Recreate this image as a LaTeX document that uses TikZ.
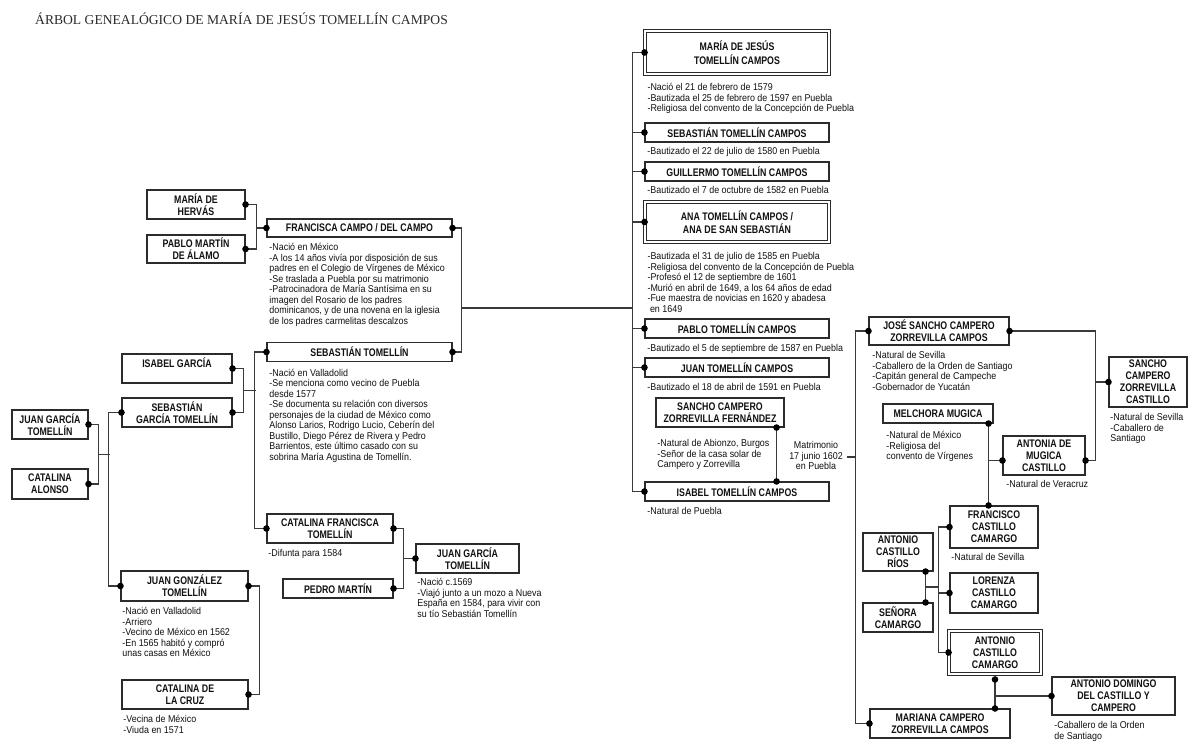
\documentclass[tikz,border=0pt]{standalone}
\usepackage{fontspec}
\setmainfont{Liberation Sans}[FakeStretch=0.9]
\newfontfamily\namefont{Liberation Sans}[FakeStretch=0.8]
\newfontfamily\titlefont{Liberation Serif}
\usepackage{tikz}
\usetikzlibrary{arrows.meta,positioning,calc}
\definecolor{linecol}{HTML}{3A3A3A}
\definecolor{boxcol}{HTML}{2B2B2B}
\definecolor{txtcol}{HTML}{111111}
\begin{document}
\begin{tikzpicture}[x=1pt, y=-1pt, >={Circle[length=6.5pt,color=black]},
	person/.style={draw=boxcol, line width=1.1pt, fill=white, align=center, inner sep=1pt, text=txtcol, font=\namefont\bfseries\fontsize{11}{12}\selectfont},
	twin/.style={person, double=white, double distance=2.2pt, line width=0.9pt},
	wide/.style={person, minimum width=184pt, minimum height=19pt},
	note/.style={align=left, inner sep=0pt, outer sep=0pt, text=txtcol, font=\fontsize{9.9}{10.5}\selectfont, execute at begin node=\strut},
	link/.style={draw=linecol, line width=1.4pt},
	bothdots/.style={link, <->, shorten >=-3.25pt, shorten <=-3.25pt},
	enddot/.style={link, ->, shorten >=-3.25pt}]
	\useasboundingbox (0,0) rectangle (1200,747);
	\fill[white] (0,0) rectangle (1200,747);
	\node[anchor=base west, inner sep=0pt, text=boxcol, font=\titlefont\fontsize{13.6}{16}\selectfont] (title) at (35,24) {ÁRBOL GENEALÓGICO DE MARÍA DE JESÚS TOMELLÍN CAMPOS};

	% left side
	\node[person, minimum width=98pt, minimum height=29pt] (hervas) at (196,204.5) {MARÍA DE\\HERVÁS};
	\node[person, minimum width=98pt, minimum height=28pt] (alamo) at (196,249) {PABLO MARTÍN\\DE ÁLAMO};
	\node[person, minimum width=185pt, minimum height=18pt] (francisca) at (359.5,228) {FRANCISCA CAMPO / DEL CAMPO};
	\node[person, minimum width=185pt, minimum height=19pt] (sebt) at (359.5,352) {SEBASTIÁN TOMELLÍN};
	\node[person, minimum width=110pt, minimum height=29pt] (isabelg) at (177,368.5) {ISABEL GARCÍA\\\mbox{}};
	\node[person, minimum width=110pt, minimum height=29pt] (sebgt) at (177,412.5) {SEBASTIÁN\\GARCÍA TOMELLÍN};
	\node[person, minimum width=76pt, minimum height=29pt] (juangt) at (50,424.5) {JUAN GARCÍA\\TOMELLÍN};
	\node[person, minimum width=76pt, minimum height=30pt] (catalonso) at (50,484) {CATALINA\\ALONSO};
	\node[person, minimum width=127pt, minimum height=30pt] (juangzt) at (184.5,586) {JUAN GONZÁLEZ\\TOMELLÍN};
	\node[person, minimum width=126pt, minimum height=29pt] (catcruz) at (185,694.5) {CATALINA DE\\LA CRUZ};
	\node[person, minimum width=126pt, minimum height=29pt] (catfran) at (330,528.5) {CATALINA FRANCISCA\\TOMELLÍN};
	\node[person, minimum width=110pt, minimum height=19pt] (pedro) at (338,588.5) {PEDRO MARTÍN};
	\node[person, minimum width=103pt, minimum height=29pt] (juangtb) at (467.5,558.5) {JUAN GARCÍA\\TOMELLÍN};

	\node[note, below right=6pt and 3pt of francisca.south west] (franciscan) {-Nació en México\\-A los 14 años vivía por disposición de sus\\padres en el Colegio de Vírgenes de México\\-Se traslada a Puebla por su matrimonio\\-Patrocinadora de María Santísima en su\\imagen del Rosario de los padres\\dominicanos, y de una novena en la iglesia\\de los padres carmelitas descalzos};
	\node[note, below right=7pt and 3pt of sebt.south west] (sebtn) {-Nació en Valladolid\\-Se menciona como vecino de Puebla\\desde 1577\\-Se documenta su relación con diversos\\personajes de la ciudad de México como\\Alonso Larios, Rodrigo Lucio, Ceberín del\\Bustillo, Diego Pérez de Rivera y Pedro\\Barrientos, este último casado con su\\sobrina María Agustina de Tomellín.};
	\node[note, below right=6pt and 2pt of juangzt.south west] (juangztn) {-Nació en Valladolid\\-Arriero\\-Vecino de México en 1562\\-En 1565 habitó y compró\\unas casas en México};
	\node[note, below right=6pt and 2pt of catcruz.south west] (catcruzn) {-Vecina de México\\-Viuda en 1571};
	\node[note, below right=6pt and 2pt of catfran.south west] (catfrann) {-Difunta para 1584};
	\node[note, below right=5pt and 2pt of juangtb.south west] (juangtbn) {-Nació c.1569\\-Viajó junto a un mozo a Nueva\\España en 1584, para vivir con\\su tío Sebastián Tomellín};

	\draw[bothdots] (hervas.east) -| ([xshift=11pt]alamo.east) -- (alamo.east);
	\draw[enddot] ([xshift=11pt]alamo.east |- francisca.west) -- (francisca.west);
	\draw[bothdots] (francisca.east) -| ([xshift=9pt]sebt.east) -- (sebt.east);
	\draw[bothdots] (isabelg.east) -| ([xshift=11pt]sebgt.east) -- (sebgt.east);
	\draw[link] ($(isabelg.east)!.5!(sebgt.east)+(11pt,0)$) -- ($(isabelg.east)!.5!(sebgt.east)+(23pt,0)$);
	\draw[bothdots] (sebt.west) -| ([xshift=-12pt]catfran.west) -- (catfran.west);
	\draw[bothdots] (juangt.east) -| ([xshift=10pt]catalonso.east) -- (catalonso.east);
	\draw[link] ($(juangt.east)!.5!(catalonso.east)+(10pt,0)$) -- ($(juangt.east)!.5!(catalonso.east)+(21pt,0)$);
	\draw[bothdots] (sebgt.west) -| ([xshift=-12pt]juangzt.west) -- (juangzt.west);
	\draw[bothdots] (juangzt.east) -| ([xshift=11pt]catcruz.east) -- (catcruz.east);
	\draw[bothdots] (catfran.east) -| ([xshift=10pt]pedro.east) -- (pedro.east);
	\draw[enddot] ([xshift=10pt]pedro.east |- juangtb.west) -- (juangtb.west);

	% middle: the children
	\node[twin, minimum width=184pt, minimum height=43pt] (mdj) at (737,52.5) {MARÍA DE JESÚS\\[2pt]TOMELLÍN CAMPOS};
	\node[wide] (sebc) at (737,132.5) {SEBASTIÁN TOMELLÍN CAMPOS};
	\node[wide] (guil) at (737,171.5) {GUILLERMO TOMELLÍN CAMPOS};
	\node[twin, minimum width=184pt, minimum height=40pt] (ana) at (737,222) {ANA TOMELLÍN CAMPOS /\\[1pt]ANA DE SAN SEBASTIÁN};
	\node[wide] (pablo) at (737,328.5) {PABLO TOMELLÍN CAMPOS};
	\node[wide] (juantc) at (737,367.5) {JUAN TOMELLÍN CAMPOS};
	\node[person, minimum width=128pt, minimum height=29pt] (sanchof) at (720,412.5) {SANCHO CAMPERO\\ZORREVILLA FERNÁNDEZ};
	\node[wide] (isabeltc) at (737,491.5) {ISABEL TOMELLÍN CAMPOS};

	\node[note, below right=9pt and 3pt of mdj.south west] (mdjn) {-Nació el 21 de febrero de 1579\\-Bautizada el 25 de febrero de 1597 en Puebla\\-Religiosa del convento de la Concepción de Puebla};
	\node[note, below right=5pt and 3pt of sebc.south west] (sebcn) {-Bautizado el 22 de julio de 1580 en Puebla};
	\node[note, below right=5pt and 3pt of guil.south west] (guiln) {-Bautizado el 7 de octubre de 1582 en Puebla};
	\node[note, below right=10pt and 3pt of ana.south west] (anan) {-Bautizada el 31 de julio de 1585 en Puebla\\-Religiosa del convento de la Concepción de Puebla\\-Profesó el 12 de septiembre de 1601\\-Murió en abril de 1649, a los 64 años de edad\\-Fue maestra de novicias en 1620 y abadesa\\\ en 1649};
	\node[note, below right=6pt and 3pt of pablo.south west] (pablon) {-Bautizado el 5 de septiembre de 1587 en Puebla};
	\node[note, below right=6pt and 3pt of juantc.south west] (juantcn) {-Bautizado el 18 de abril de 1591 en Puebla};
	\node[note, below right=12pt and 2pt of sanchof.south west] (sanchofn) {-Natural de Abionzo, Burgos\\-Señor de la casa solar de\\Campero y Zorrevilla};
	\node[note, below right=6pt and 3pt of isabeltc.south west] (isabeltcn) {-Natural de Puebla};
	\node[note, align=center, execute at begin node={}] (wedlabel) at (816,457) {Matrimonio\\17 junio 1602\\en Puebla};

	\coordinate (trunk) at ([xshift=-12pt]mdj.west);
	\draw[bothdots] (mdj.west) -- (trunk) |- (isabeltc.west);
	\foreach \kid in {sebc,guil,ana,pablo,juantc}
		\draw[enddot] (trunk |- \kid.west) -- (\kid.west);
	\coordinate (famjoin) at ([xshift=9pt,yshift=44pt]sebt.east);
	\draw[link] (famjoin) -- (famjoin -| trunk);
	\coordinate (wed) at ([xshift=-8pt]sanchof.south east);
	\draw[bothdots] (wed) -- (wed |- isabeltc.north);

	% right side
	\node[person, minimum width=140pt, minimum height=28pt] (josesc) at (939,331) {JOSÉ SANCHO CAMPERO\\ZORREVILLA CAMPOS};
	\node[person, minimum width=78pt, minimum height=50pt] (sanchoc) at (1148,382) {SANCHO\\CAMPERO\\ZORREVILLA\\CASTILLO};
	\node[person, minimum width=110pt, minimum height=19pt] (melchora) at (938,413.5) {MELCHORA MUGICA};
	\node[person, minimum width=82pt, minimum height=39pt] (antonia) at (1044,455.5) {ANTONIA DE\\MUGICA\\CASTILLO};
	\node[person, minimum width=88pt, minimum height=42pt] (francisco) at (994,527) {FRANCISCO\\CASTILLO\\CAMARGO};
	\node[person, minimum width=70pt, minimum height=38pt] (acrios) at (898,552) {ANTONIO\\CASTILLO\\RÍOS};
	\node[person, minimum width=70pt, minimum height=29pt] (senora) at (898,617.5) {SEÑORA\\CAMARGO};
	\node[person, minimum width=88pt, minimum height=40pt] (lorenza) at (994,593) {LORENZA\\CASTILLO\\CAMARGO};
	\node[twin, minimum width=92pt, minimum height=43pt] (acc) at (995,652.5) {ANTONIO\\CASTILLO\\CAMARGO};
	\node[person, minimum width=123pt, minimum height=38pt] (adomingo) at (1113.5,696) {ANTONIO DOMINGO\\DEL CASTILLO Y\\CAMPERO};
	\node[person, minimum width=140pt, minimum height=29pt] (mariana) at (940,723.5) {MARIANA CAMPERO\\ZORREVILLA CAMPOS};

	\node[note, below right=6pt and 4pt of josesc.south west] (joscn) {-Natural de Sevilla\\-Caballero de la Orden de Santiago\\-Capitán general de Campeche\\-Gobernador de Yucatán};
	\node[note, below right=6pt and 2pt of sanchoc.south west] (sanchocn) {-Natural de Sevilla\\-Caballero de\\Santiago};
	\node[note, below right=8pt and 4pt of melchora.south west] (melchoran) {-Natural de México\\-Religiosa del\\convento de Vírgenes};
	\node[note, below right=5pt and 4pt of antonia.south west] (antonian) {-Natural de Veracruz};
	\node[note, below right=5pt and 2pt of francisco.south west] (franciscon) {-Natural de Sevilla};
	\node[note, below right=6pt and 3pt of adomingo.south west] (adomingon) {-Caballero de la Orden\\de Santiago};

	\coordinate (rspine) at ([xshift=-13pt]josesc.west);
	\draw[bothdots] (josesc.west) -- (rspine) |- (mariana.west);
	\draw[link] (rspine |- wedlabel) -- ++(-8pt,0);
	\draw[bothdots] (josesc.east) -| ([xshift=10pt,yshift=-5pt]antonia.east) -- ([yshift=-5pt]antonia.east);
	\draw[enddot] ([xshift=10pt]antonia.east |- sanchoc.west) -- (sanchoc.west);
	\coordinate (mel) at ([xshift=-5pt]melchora.south east);
	\draw[bothdots] (mel) -- (mel |- francisco.north);
	\draw[enddot] ([yshift=-5pt]mel |- antonia.west) -- ([yshift=-5pt]antonia.west);
	\coordinate (rios) at ([xshift=-8pt]acrios.south east);
	\draw[bothdots] (rios) -- (rios |- senora.north);
	\coordinate (riosmid) at ($(rios)!.5!(rios |- senora.north)$);
	\coordinate (cspine) at ([xshift=-11pt]francisco.west);
	\draw[link] (riosmid) -- (riosmid -| cspine);
	\draw[bothdots] (francisco.west) -- (cspine) |- (acc.west);
	\draw[enddot] (cspine |- lorenza.west) -- (lorenza.west);
	\coordinate (accfoot) at ([yshift=-5pt]acc.south);
	\draw[bothdots] (accfoot) -- (accfoot |- mariana.north);
	\draw[enddot] (accfoot |- adomingo.west) -- (adomingo.west);
\end{tikzpicture}
\end{document}
